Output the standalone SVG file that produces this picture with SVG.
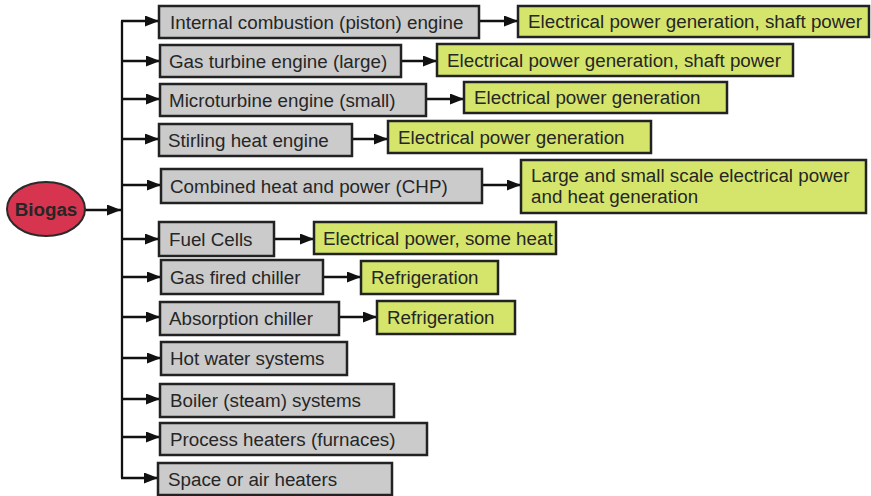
<svg xmlns="http://www.w3.org/2000/svg" width="871" height="496" viewBox="0 0 871 496">
<defs>
<marker id="ah" viewBox="0 0 14 11" refX="14" refY="5.5" markerWidth="14" markerHeight="11" markerUnits="userSpaceOnUse" orient="auto">
<path d="M0,0 L14,5.5 L0,11 Z" fill="#111"/>
</marker>
<style>
.g rect{fill:#cbcbcb;stroke:#222;stroke-width:2.5}
.y rect{fill:#d5e56c;stroke:#222;stroke-width:2.5}
text{font-family:"Liberation Sans",Arial,sans-serif;font-size:18.8px;fill:#262626}
.c line{stroke:#111;stroke-width:2.3;marker-end:url(#ah)}
.c path{stroke:#111;stroke-width:2.3;fill:none}
</style>
</defs>
<rect width="871" height="496" fill="#fff"/>

<g class="c" id="connectors">
<path d="M122,21 V478"/>
<line x1="85" y1="210" x2="121" y2="210"/>
<line x1="121" y1="21" x2="159" y2="21"/>
<line x1="121" y1="61" x2="160" y2="61"/>
<line x1="121" y1="99" x2="160" y2="99"/>
<line x1="121" y1="139" x2="159" y2="139"/>
<line x1="121" y1="185" x2="161" y2="185"/>
<line x1="121" y1="239" x2="159" y2="239"/>
<line x1="121" y1="277" x2="161" y2="277"/>
<line x1="121" y1="317" x2="160" y2="317"/>
<line x1="121" y1="358" x2="161" y2="358"/>
<line x1="121" y1="399" x2="160" y2="399"/>
<line x1="121" y1="437" x2="160" y2="437"/>
<line x1="121" y1="478" x2="158" y2="478"/>
<line x1="479" y1="21" x2="518" y2="21"/>
<line x1="401" y1="61" x2="437" y2="61"/>
<line x1="426" y1="99" x2="464" y2="99"/>
<line x1="352" y1="139" x2="388" y2="139"/>
<line x1="482" y1="185" x2="521" y2="185"/>
<line x1="274" y1="239" x2="314" y2="239"/>
<line x1="323" y1="277" x2="361" y2="277"/>
<line x1="339" y1="317" x2="377" y2="317"/>
</g>

<g id="biogas">
<ellipse cx="46" cy="209" rx="39" ry="27" fill="#d7344f" stroke="#2a2a2a" stroke-width="2"/>
<text x="46" y="215.5" text-anchor="middle" font-weight="bold" fill="#1a1a1a">Biogas</text>
</g>

<g id="ice" class="g"><rect x="159" y="6" width="320" height="32"/><text x="170" y="28.5">Internal combustion (piston) engine</text></g>
<g id="gasturbine" class="g"><rect x="160" y="45" width="241" height="32"/><text x="169" y="67.5">Gas turbine engine (large)</text></g>
<g id="microturbine" class="g"><rect x="160" y="84" width="266" height="32"/><text x="169" y="106.5">Microturbine engine (small)</text></g>
<g id="stirling" class="g"><rect x="159" y="124" width="193" height="32"/><text x="168" y="146.5">Stirling heat engine</text></g>
<g id="chp" class="g"><rect x="161" y="169" width="321" height="34"/><text x="170" y="192.5">Combined heat and power (CHP)</text></g>
<g id="fuelcells" class="g"><rect x="159" y="222" width="115" height="34"/><text x="169" y="245.5">Fuel Cells</text></g>
<g id="gaschiller" class="g"><rect x="161" y="260" width="162" height="34"/><text x="170" y="283.5">Gas fired chiller</text></g>
<g id="abschiller" class="g"><rect x="160" y="302" width="179" height="33"/><text x="169" y="324.5">Absorption chiller</text></g>
<g id="hotwater" class="g"><rect x="161" y="342" width="186" height="33"/><text x="170" y="364.5">Hot water systems</text></g>
<g id="boiler" class="g"><rect x="160" y="384" width="234" height="33"/><text x="170" y="406.5">Boiler (steam) systems</text></g>
<g id="process" class="g"><rect x="160" y="423" width="267" height="32"/><text x="170" y="445.5">Process heaters (furnaces)</text></g>
<g id="space" class="g"><rect x="158" y="463" width="234" height="32"/><text x="168" y="485.5">Space or air heaters</text></g>

<g id="out-ice" class="y"><rect x="518" y="6" width="351" height="31"/><text x="528" y="28">Electrical power generation, shaft power</text></g>
<g id="out-gasturbine" class="y"><rect x="437" y="44" width="356" height="32"/><text x="447" y="66.5">Electrical power generation, shaft power</text></g>
<g id="out-microturbine" class="y"><rect x="464" y="82" width="263" height="31"/><text x="474" y="104">Electrical power generation</text></g>
<g id="out-stirling" class="y"><rect x="388" y="121" width="263" height="32"/><text x="398" y="143.5">Electrical power generation</text></g>
<g id="out-chp" class="y"><rect x="521" y="160" width="345" height="53"/><text x="531" y="182">Large and small scale electrical power</text><text x="531" y="203">and heat generation</text></g>
<g id="out-fuelcells" class="y"><rect x="314" y="222" width="242" height="32"/><text x="323" y="244.5">Electrical power, some heat</text></g>
<g id="out-gaschiller" class="y"><rect x="361" y="261" width="137" height="33"/><text x="371" y="283.5">Refrigeration</text></g>
<g id="out-abschiller" class="y"><rect x="377" y="301" width="138" height="33"/><text x="387" y="323.5">Refrigeration</text></g>
</svg>
